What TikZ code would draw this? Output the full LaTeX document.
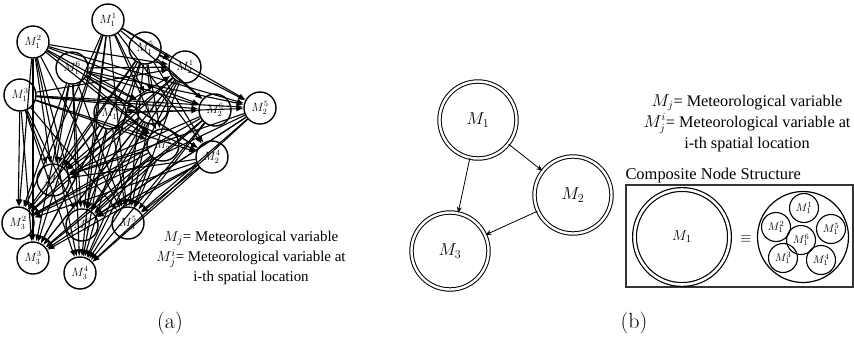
\documentclass[tikz,border=0pt]{standalone}
\usepackage{fontspec}
\newfontfamily\cambria{Liberation Serif}
\usetikzlibrary{arrows.meta}
\begin{document}
\begin{tikzpicture}[x=1bp,y=-1bp,
  sn/.style={circle,draw,line width=1.4bp,fill=white,minimum size=32bp,inner sep=0pt,font=\fontsize{12}{12}\selectfont},
  ed/.style={line width=1.1bp,-{Latex[length=7bp,width=5.5bp]}},
  bn/.style={circle,draw,line width=1bp,double,double distance=2.4bp,minimum size=77bp,inner sep=0pt,font=\fontsize{17}{17}\selectfont},
  be/.style={line width=0.8bp,-{Stealth[length=6bp,width=5bp]}},
  cn/.style={circle,draw,line width=1.1bp,minimum size=29bp,inner sep=0pt,font=\fontsize{11}{11}\selectfont},
  lblA/.style={font=\cambria\fontsize{15}{20}\selectfont,align=center},
  lblB/.style={font=\cambria\fontsize{16.3}{21}\selectfont,align=center},
  captxt/.style={font=\fontsize{22}{22}\selectfont}]
\useasboundingbox (0,0) rectangle (854,338);
% ---------- panel (a) ----------
\node[sn] (a11) at (108,20) {$M_1^1$};
\node[sn] (a12) at (33,42) {$M_1^2$};
\node[sn] (a16) at (72,68) {$M_1^6$};
\node[sn] (a13) at (20,95) {$M_1^3$};
\node[sn] (a14) at (110,113) {$M_1^4$};
\node[sn] (a15) at (145,48) {$M_1^5$};
\node[sn] (a21) at (185,67) {$M_2^1$};
\node[sn] (a26) at (215,110) {$M_2^6$};
\node[sn] (a25) at (260,108) {$M_2^5$};
\node[sn] (a23) at (152,108) {$M_2^3$};
\node[sn] (a22) at (163,145) {$M_2^2$};
\node[sn] (a24) at (212,157) {$M_2^4$};
\node[sn] (a31) at (53,180) {$M_3^1$};
\node[sn] (a32) at (18,223) {$M_3^2$};
\node[sn] (a36) at (82,225) {$M_3^6$};
\node[sn] (a35) at (128,223) {$M_3^5$};
\node[sn] (a33) at (33,258) {$M_3^3$};
\node[sn] (a34) at (80,273) {$M_3^4$};
\foreach \s in {1,...,6}{
  \foreach \t in {1,...,6}{
    \draw[ed] (a1\s) -- (a2\t);
    \draw[ed] (a1\s) -- (a3\t);
    \draw[ed] (a2\s) -- (a3\t);
  }
}
\node[lblA] (ta) at (251,258) {$M_j$= Meteorological variable\\$M_j^i$= Meteorological variable at\\i-th spatial location};
\node[captxt] (capa) at (170,323) {(a)};
% ---------- panel (b) ----------
\node[bn] (b1) at (478,120) {$M_1$};
\node[bn] (b2) at (573,195) {$M_2$};
\node[bn] (b3) at (450,251) {$M_3$};
\draw[be] (b1) -- (b2);
\draw[be] (b1) -- (b3);
\draw[be] (b2) -- (b3);
\node[lblB] (tb) at (747,123) {$M_j$= Meteorological variable\\$M_j^i$= Meteorological variable at\\i-th spatial location};
\node[font=\cambria\fontsize{16.5}{16.5}\selectfont,anchor=base west] (ct) at (622,179) {Composite Node Structure};
\draw[line width=1.1bp,draw=black!80] (626,185) rectangle (853,287);
\node[circle,draw,line width=1.2bp,double,double distance=2.6bp,minimum size=95bp,inner sep=0pt,font=\fontsize{15}{15}\selectfont] (bc) at (682,237) {$M_1$};
\node[font=\fontsize{15}{15}\selectfont] (eq) at (746,239) {$\equiv$};
\node[circle,draw,line width=1.2bp,minimum size=91bp,inner sep=0pt] (cc) at (803,237) {};
\node[cn] (c1) at (804,208) {$M_1^1$};
\node[cn] (c2) at (776,227) {$M_1^2$};
\node[cn] (c5) at (831,229) {$M_1^5$};
\node[cn] (c3) at (783,258) {$M_1^3$};
\node[cn] (c4) at (821,260) {$M_1^4$};
\node[cn] (c6) at (801,240) {$M_1^6$};
\node[captxt] (capb) at (634,323) {(b)};
\end{tikzpicture}
\end{document}
